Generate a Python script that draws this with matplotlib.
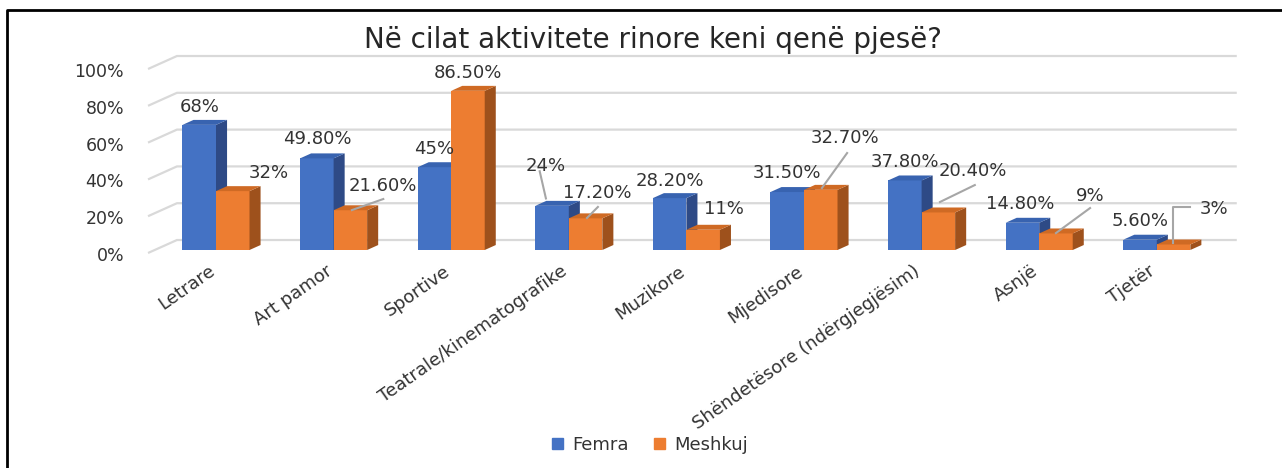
import matplotlib.pyplot as plt
from matplotlib.patches import Polygon, Patch
from matplotlib.lines import Line2D

# data
categories = ['Letrare', 'Art pamor', 'Sportive', 'Teatrale/kinematografike',
              'Muzikore', 'Mjedisore', 'Shëndetësore (ndërgjegjësim)', 'Asnjë', 'Tjetër']
femra = [68, 49.8, 45, 24, 28.2, 31.5, 37.8, 14.8, 5.6]
meshkuj = [32, 21.6, 86.5, 17.2, 11, 32.7, 20.4, 9, 3]
femra_labels = ['68%', '49.80%', '45%', '24%', '28.20%', '31.50%', '37.80%', '14.80%', '5.60%']
meshkuj_labels = ['32%', '21.60%', '86.50%', '17.20%', '11%', '32.70%', '20.40%', '9%', '3%']
ticks = [0, 20, 40, 60, 80, 100]
title = 'Në cilat aktivitete rinore keni qenë pjesë?'

# label placement (offset from the top of the front face, in data units)
f_off = [(0, 9.7), (0, 10.5), (0, 9.9), (-0.05, 21.7), (0, 9.3),
         (0, 10.3), (0, 10.0), (-0.02, 10.2), (0, 10.2)]
m_off = [(0.31, 9.8), (0.28, 13.2), (0, 9.7), (0.10, 13.8), (0.18, 11.3),
         (0.21, 28.2), (0.29, 22.5), (0.29, 20.3), (0.34, 19.3)]
# leader lines: list of (dx, dy) points relative to the bar top
f_lead = {3: [(-0.052, 4.0), (-0.105, 18.8)]}
m_lead = {1: [(0.013, 0.1), (0.28, 6.1)],
          3: [(0.012, 0.2), (0.105, 6.2)],
          5: [(0.01, 1.0), (0.224, 20.0)],
          6: [(0.014, 5.7), (0.31, 14.9)],
          7: [(0.0, 0.2), (0.29, 13.8)],
          8: [(-0.004, 0.8), (-0.004, 20.4), (0.14, 20.4)]}

BLUE, BLUE_SIDE, BLUE_TOP = '#4472C4', '#2E4A86', '#3863B0'
ORANGE, ORANGE_SIDE, ORANGE_TOP = '#ED7D31', '#9E511C', '#CF6A24'
GRID = '#D9D9D9'
TXT = '#333333'

W = 0.285      # bar width
DX, DY = 0.094, 2.7   # bar depth
GX0, GX1, GXE = -0.578, -0.332, 8.68   # grid front-left, back-left, back-right
GY0, GY1 = -1.63, 5.43

fig = plt.figure(figsize=(12.82, 4.68), dpi=100)
ax = fig.add_axes([100 / 1282, (468 - 262) / 468, 1160 / 1282, 232 / 468])
ax.set_xlim((100 - 216) / 117.6, (1260 - 216) / 117.6)
ax.set_ylim((250 - 262) / 1.84, (250 - 30) / 1.84)
ax.axis('off')

# back grid with the left wall stub
for t in ticks:
    ax.plot([GX0, GX1, GXE], [t + GY0, t + GY1, t + GY1], color=GRID, lw=1.6, zorder=1,
            solid_capstyle='butt')
    ax.text(-0.782, t - 3.26, f'{t}%', ha='right', va='center', fontsize=12.5, color=TXT)


def bar3d(x, v, front, side, top):
    l, r = x - W / 2, x + W / 2
    ax.add_patch(Polygon([(l, 0), (r, 0), (r, v), (l, v)], closed=True, fc=front, ec='none', zorder=3))
    ax.add_patch(Polygon([(r, 0), (r + DX, DY), (r + DX, v + DY), (r, v)], closed=True,
                         fc=side, ec='none', zorder=3))
    ax.add_patch(Polygon([(l, v), (l + DX, v + DY), (r + DX, v + DY), (r, v)], closed=True,
                         fc=top, ec='none', zorder=3))


for i in range(len(categories)):
    xb = i - W / 2
    xo = i + W / 2
    bar3d(xb, femra[i], BLUE, BLUE_SIDE, BLUE_TOP)
    bar3d(xo, meshkuj[i], ORANGE, ORANGE_SIDE, ORANGE_TOP)

    ax.text(xb + f_off[i][0], femra[i] + f_off[i][1], femra_labels[i], ha='center', va='center',
            fontsize=13, color=TXT, zorder=5)
    ax.text(xo + m_off[i][0], meshkuj[i] + m_off[i][1], meshkuj_labels[i], ha='center', va='center',
            fontsize=13, color=TXT, zorder=5)
    if i in f_lead:
        pts = f_lead[i]
        ax.plot([xb + p[0] for p in pts], [femra[i] + p[1] for p in pts], color='#A6A6A6', lw=1.5, zorder=4)
    if i in m_lead:
        pts = m_lead[i]
        ax.plot([xo + p[0] for p in pts], [meshkuj[i] + p[1] for p in pts], color='#A6A6A6', lw=1.5, zorder=4)

    ax.text(i - 0.07, -6.5, categories[i], rotation=35, rotation_mode='anchor', ha='right', va='top',
            fontsize=13, color=TXT, clip_on=False)

fig.text(653 / 1282, 1 - 48 / 468, title, ha='center', va='baseline', fontsize=20, color='#262626')

fig.legend(handles=[Patch(color=BLUE, label='Femra'), Patch(color=ORANGE, label='Meshkuj')],
           loc='center', bbox_to_anchor=(650 / 1282, 1 - 445 / 468), ncol=2, frameon=False,
           fontsize=13, handlelength=0.6, handleheight=0.6, columnspacing=1.4, handletextpad=0.5,
           labelcolor=TXT)

# black frame (left and top edges)
fig.add_artist(Line2D([7 / 1282, 7 / 1282, 1.01], [-0.01, 1 - 10 / 468, 1 - 10 / 468], color='black', lw=2))

fig.savefig('out.png', dpi=100)
